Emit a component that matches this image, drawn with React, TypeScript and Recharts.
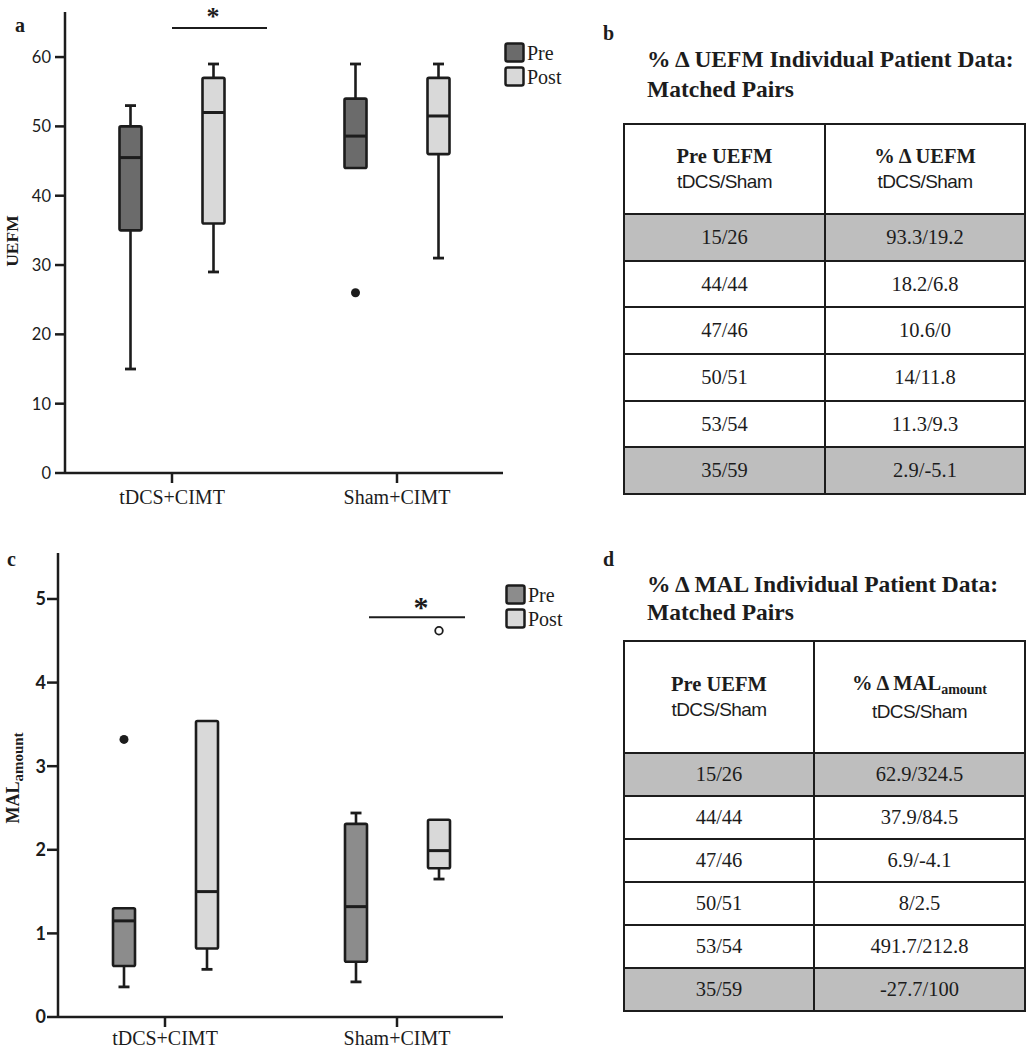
import React from 'react';
import { Bar, ComposedChart, Legend, ReferenceDot, XAxis, YAxis } from 'recharts';

type Outlier = { v: number; open?: boolean };
type Box = { min: number; q1: number; med: number; q3: number; max: number; out: Outlier[] };

const groups = ['tDCS+CIMT', 'Sham+CIMT'];
const seriesNames = ['Pre', 'Post'];

// panel a: UEFM
const uefmPre: Box[] = [
  { min: 15, q1: 35, med: 45.5, q3: 50, max: 53, out: [] },
  { min: 44, q1: 44, med: 48.6, q3: 54, max: 59, out: [{ v: 26 }] },
];
const uefmPost: Box[] = [
  { min: 29, q1: 36, med: 52, q3: 57, max: 59, out: [] },
  { min: 31, q1: 46, med: 51.5, q3: 57, max: 59, out: [] },
];
const uefmTicks = [0, 10, 20, 30, 40, 50, 60];

// panel c: MAL amount
const malPre: Box[] = [
  { min: 0.36, q1: 0.61, med: 1.15, q3: 1.3, max: 1.3, out: [{ v: 3.32 }] },
  { min: 0.42, q1: 0.66, med: 1.32, q3: 2.31, max: 2.44, out: [] },
];
const malPost: Box[] = [
  { min: 0.57, q1: 0.82, med: 1.5, q3: 3.54, max: 3.54, out: [] },
  { min: 1.65, q1: 1.78, med: 1.99, q3: 2.36, max: 2.36, out: [{ v: 4.62, open: true }] },
];
const malTicks = [0, 1, 2, 3, 4, 5];

// tables b and d
const preUefmPairs = ['15/26', '44/44', '47/46', '50/51', '53/54', '35/59'];
const uefmChange = ['93.3/19.2', '18.2/6.8', '10.6/0', '14/11.8', '11.3/9.3', '2.9/-5.1'];
const malChange = ['62.9/324.5', '37.9/84.5', '6.9/-4.1', '8/2.5', '491.7/212.8', '-27.7/100'];
const shadedRows = [0, 5];

const rowsA = groups.map((name, i) => ({ name, pre: uefmPre[i], post: uefmPost[i] }));
const rowsC = groups.map((name, i) => ({ name, pre: malPre[i], post: malPost[i] }));

const SERIF = '"Liberation Serif", "Times New Roman", serif';
const SANS = '"Liberation Sans", Arial, sans-serif';
const TICKF = 'Lato, "Open Sans", sans-serif';
const INK = '#1c1c1c';
const POST_FILL = '#d9d9d9';

const boxShape = (key: 'pre' | 'post', fill: string) => (props: any) => {
  const { x, y, width, height, payload } = props;
  const b: Box = payload[key];
  const top0 = Math.min(y, y + height);
  const h = Math.abs(height);
  const span = b.max - b.min || 1;
  const py = (v: number) => top0 + ((b.max - v) / span) * h;
  const cx = x + width / 2;
  const cap = width / 4;
  const qTop = py(b.q3);
  const qBot = py(b.q1);
  return (
    <g>
      {b.max > b.q3 && (
        <>
          <line x1={cx} x2={cx} y1={py(b.max)} y2={qTop} stroke={INK} strokeWidth={2.6} />
          <line x1={cx - cap} x2={cx + cap} y1={py(b.max)} y2={py(b.max)} stroke={INK} strokeWidth={2.8} />
        </>
      )}
      {b.min < b.q1 && (
        <>
          <line x1={cx} x2={cx} y1={qBot} y2={py(b.min)} stroke={INK} strokeWidth={2.6} />
          <line x1={cx - cap} x2={cx + cap} y1={py(b.min)} y2={py(b.min)} stroke={INK} strokeWidth={2.8} />
        </>
      )}
      <rect x={x} y={qTop} width={width} height={qBot - qTop} fill={fill} stroke={INK} strokeWidth={2.6} rx={1.5} />
      <line x1={x} x2={x + width} y1={py(b.med)} y2={py(b.med)} stroke={INK} strokeWidth={3} />
      {b.out.map((o, i) =>
        o.open ? (
          <circle key={i} cx={cx} cy={py(o.v)} r={3.8} fill="#fff" stroke={INK} strokeWidth={1.8} />
        ) : (
          <circle key={i} cx={cx} cy={py(o.v)} r={4.5} fill={INK} />
        ),
      )}
    </g>
  );
};

const sigShape = (dx1: number, dx2: number, ax: number, dy: number, size: number) => (p: any) => (
  <g>
    <line x1={p.cx + dx1} x2={p.cx + dx2} y1={p.cy} y2={p.cy} stroke={INK} strokeWidth={2} />
    <text x={p.cx + ax} y={p.cy - dy} textAnchor="middle" fontFamily={SERIF} fontWeight={700} fontSize={size} fill={INK}>
      *
    </text>
  </g>
);

const legendContent = (fills: string[]) => (props: any) => {
  const fromLib =
    props.payload && props.payload.length
      ? props.payload.map((p: any) => ({ value: p.value, color: p.color }))
      : seriesNames.map((n, i) => ({ value: n, color: fills[i] }));
  const items = [...fromLib].sort((a: any, b: any) => seriesNames.indexOf(a.value) - seriesNames.indexOf(b.value));
  return (
    <svg width={84} height={50}>
      {items.map((it: any, i: number) => (
        <g key={it.value}>
          <rect x={1.5} y={1.5 + i * 24} width={18} height={18} rx={2} fill={it.color} stroke={INK} strokeWidth={2.5} />
          <text x={23} y={18 + i * 24} fontFamily={SERIF} fontSize={20} fill={INK}>
            {it.value}
          </text>
        </g>
      ))}
    </svg>
  );
};

interface PanelProps {
  rows: any[];
  top: number;
  height: number;
  margin: { top: number; right: number; bottom: number; left: number };
  domainMax: number;
  ticks: number[];
  preFill: string;
  padding: { left: number; right: number };
  tickSize: number;
  tickBold: boolean;
  xTickMargin: number;
  sig: { x: string; y: number; dx1: number; dx2: number; ax: number; dy: number; size: number };
  legendPos: { left: number; top: number };
}

function BoxPanel(p: PanelProps) {
  const fills = [p.preFill, POST_FILL];
  return (
    <div style={{ position: 'absolute', left: 0, top: p.top }}>
      <ComposedChart width={525} height={p.height} data={p.rows} margin={p.margin} barSize={22} barGap={61}>
        <XAxis
          dataKey="name"
          padding={p.padding}
          height={30}
          tickSize={10}
          tickMargin={p.xTickMargin}
          axisLine={{ stroke: INK, strokeWidth: 2.5 }}
          tickLine={{ stroke: INK, strokeWidth: 2.5 }}
          tick={{ fontFamily: SERIF, fontSize: 20, fill: INK }}
        />
        <YAxis
          type="number"
          width={50}
          domain={[0, p.domainMax]}
          ticks={p.ticks}
          allowDataOverflow
          tickSize={p.tickSize}
          tickMargin={p.tickBold ? 1 : 4}
          axisLine={{ stroke: INK, strokeWidth: 2.5 }}
          tickLine={{ stroke: INK, strokeWidth: 2.5 }}
          tick={{ fontFamily: TICKF, fontSize: p.tickBold ? 18 : 16.5, fontWeight: p.tickBold ? 700 : 400, fill: INK }}
        />
        <Bar
          name="Pre"
          dataKey={(d: any) => [d.pre.min, d.pre.max]}
          fill={p.preFill}
          shape={boxShape('pre', p.preFill)}
          isAnimationActive={false}
        />
        <Bar
          name="Post"
          dataKey={(d: any) => [d.post.min, d.post.max]}
          fill={POST_FILL}
          shape={boxShape('post', POST_FILL)}
          isAnimationActive={false}
        />
        <ReferenceDot
          x={p.sig.x}
          y={p.sig.y}
          r={0}
          shape={sigShape(p.sig.dx1, p.sig.dx2, p.sig.ax, p.sig.dy, p.sig.size)}
        />
        <Legend
          layout="vertical"
          align="center"
          verticalAlign="middle"
          content={legendContent(fills)}
          wrapperStyle={{ left: p.legendPos.left, top: p.legendPos.top, width: 84, height: 50 }}
        />
      </ComposedChart>
    </div>
  );
}

function PairsTable(props: {
  left: number;
  top: number;
  firstCol: number;
  headHeight: number;
  rowHeight: number;
  changeHead: React.ReactNode;
  changes: string[];
}) {
  const cell: React.CSSProperties = {
    border: `2.5px solid ${INK}`,
    padding: 0,
    textAlign: 'center',
    verticalAlign: 'middle',
  };
  const sub: React.CSSProperties = { fontFamily: SANS, fontSize: 19, fontWeight: 400, letterSpacing: -0.6 };
  return (
    <table
      style={{
        position: 'absolute',
        left: props.left,
        top: props.top,
        width: 403,
        borderCollapse: 'collapse',
        tableLayout: 'fixed',
        fontFamily: SERIF,
        fontSize: 20.5,
        color: INK,
      }}
    >
      <colgroup>
        <col style={{ width: props.firstCol }} />
        <col />
      </colgroup>
      <tbody>
        <tr style={{ height: props.headHeight, background: '#fff' }}>
          <td style={{ ...cell, lineHeight: '26px' }}>
            <div style={{ fontWeight: 700 }}>Pre UEFM</div>
            <div style={sub}>tDCS/Sham</div>
          </td>
          <td style={{ ...cell, lineHeight: '26px' }}>
            <div style={{ fontWeight: 700 }}>{props.changeHead}</div>
            <div style={sub}>tDCS/Sham</div>
          </td>
        </tr>
        {preUefmPairs.map((pair, i) => (
          <tr key={pair} style={{ height: props.rowHeight, background: shadedRows.includes(i) ? '#bebebe' : '#fff' }}>
            <td style={cell}>{pair}</td>
            <td style={cell}>{props.changes[i]}</td>
          </tr>
        ))}
      </tbody>
    </table>
  );
}

export default function App() {
  return (
    <div
      style={{
        position: 'absolute',
        left: 0,
        top: 0,
        width: 1033,
        height: 1050,
        overflow: 'hidden',
        background: '#fff',
        fontFamily: SERIF,
      }}
    >
      <BoxPanel
        rows={rowsA}
        top={0}
        height={520}
        margin={{ top: 12, right: 22, bottom: 17, left: 15 }}
        domainMax={66.5}
        ticks={uefmTicks}
        preFill="#6b6b6b"
        padding={{ left: -5.5, right: -6.5 }}
        tickSize={10}
        tickBold={false}
        xTickMargin={7}
        sig={{ x: 'tDCS+CIMT', y: 64.2, dx1: 0, dx2: 95, ax: 41, dy: 3, size: 26 }}
        legendPos={{ left: 504, top: 42 }}
      />
      <BoxPanel
        rows={rowsC}
        top={520}
        height={530}
        margin={{ top: 33, right: 22, bottom: 3, left: 8 }}
        domainMax={5.55}
        ticks={malTicks}
        preFill="#8c8c8c"
        padding={{ left: -9, right: -10 }}
        tickSize={11}
        tickBold
        xTickMargin={4}
        sig={{ x: 'Sham+CIMT', y: 4.78, dx1: -28, dx2: 68, ax: 24, dy: 0, size: 30 }}
        legendPos={{ left: 505, top: 64 }}
      />

      <PairsTable
        left={623}
        top={123}
        firstCol={201}
        headHeight={90}
        rowHeight={46.7}
        changeHead={<>% &Delta; UEFM</>}
        changes={uefmChange}
      />
      <PairsTable
        left={623}
        top={640}
        firstCol={190}
        headHeight={112}
        rowHeight={43}
        changeHead={
          <>
            % &Delta; MAL<span style={{ fontSize: 14, position: 'relative', top: 4 }}>amount</span>
          </>
        }
        changes={malChange}
      />

      <svg width={1033} height={1050} style={{ position: 'absolute', left: 0, top: 0, pointerEvents: 'none' }}>
        <g fontFamily={SERIF} fontWeight={700} fill={INK}>
          <text x={15} y={32} fontSize={20}>a</text>
          <text x={603} y={40} fontSize={20}>b</text>
          <text x={7} y={566} fontSize={20}>c</text>
          <text x={603} y={566} fontSize={20}>d</text>

          <text x={18} y={241} fontSize={17.5} textAnchor="middle" transform="rotate(-90 18 241)">UEFM</text>
          <text x={19} y={778} fontSize={18} textAnchor="middle" transform="rotate(-90 19 778)">
            MAL<tspan fontSize={15} dy={4}>amount</tspan>
          </text>

          <text x={647} y={67} fontSize={23.5}>% &#916; UEFM Individual  Patient Data:</text>
          <text x={647} y={97} fontSize={23.5}>Matched Pairs</text>
          <text x={647} y={592} fontSize={23.5}>% &#916; MAL Individual  Patient Data:</text>
          <text x={647} y={620} fontSize={23.5}>Matched Pairs</text>
        </g>
      </svg>
    </div>
  );
}
